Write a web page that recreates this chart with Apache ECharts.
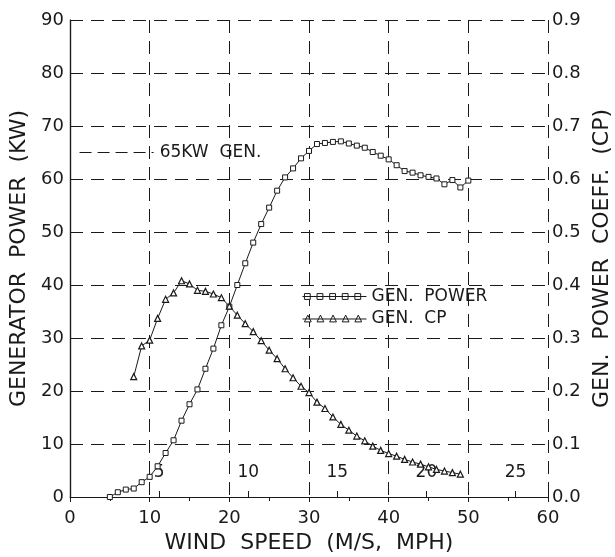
<!DOCTYPE html>
<html>
<head>
<meta charset="utf-8">
<script src="https://cdn.jsdelivr.net/npm/echarts@6/dist/echarts.min.js"></script>
<style>
  html, body { margin: 0; padding: 0; background: #fff; }
  #chart { width: 615px; height: 557px; }
</style>
</head>
<body>
<div id="chart"></div>
<script>
// wind speed in MPH
var powerSpeed = [5, 6, 7, 8, 9, 10, 11, 12, 13, 14, 15, 16, 17, 18, 19, 20, 21, 22, 23, 24, 25, 26, 27,
    28, 29, 30, 31, 32, 33, 34, 35, 36, 37, 38, 39, 40, 41, 42, 43, 44, 45, 46, 47, 48, 49, 50];
var genPower = [0, 0.9, 1.4, 1.6, 2.8, 3.8, 5.8, 8.3, 10.7, 14.4, 17.5, 20.3, 24.2, 28.0, 32.4, 35.9, 40.0, 44.1, 48.0,
    51.5, 54.6, 57.8, 60.3, 62.0, 63.9, 65.3, 66.6, 66.8, 67.0, 67.1, 66.7, 66.3, 65.9, 65.1, 64.4, 63.7,
    62.6, 61.5, 61.2, 60.7, 60.4, 60.1, 59.0, 59.8, 58.4, 59.7];

var cpSpeed = [8, 9, 10, 11, 12, 13, 14, 15, 16, 17, 18, 19, 20, 21, 22, 23, 24, 25, 26, 27, 28, 29,
    30, 31, 32, 33, 34, 35, 36, 37, 38, 39, 40, 41, 42, 43, 44, 45, 46, 47, 48, 49];
var genCp = [0.227, 0.285, 0.296, 0.337, 0.373, 0.385, 0.408, 0.402, 0.390, 0.388, 0.383, 0.376, 0.360,
    0.343, 0.327, 0.312, 0.295, 0.277, 0.261, 0.242, 0.225, 0.209, 0.197, 0.179, 0.167, 0.151, 0.137,
    0.126, 0.115, 0.106, 0.096, 0.088, 0.082, 0.077, 0.071, 0.066, 0.062, 0.057, 0.052, 0.049, 0.046, 0.043];

// 65 kW generator reference line
var refLineX = [1.2, 10.5];
var refLineKw = 65;

var MPH_PER_MS = 2.23694;
var FONT = 'DejaVu Sans';
var INK = '#1a1a1a';

function pairs(xs, ys) {
    return xs.map(function (x, i) { return [x, ys[i]]; });
}

// legend icons: a line with five hollow markers
var sqIcon = 'path://M0 5H66';
var triIcon = 'path://M0 5H66';
for (var k = 0; k < 5; k++) {
    var x0 = 2 + k * 13;
    sqIcon += 'M' + x0 + ' 2h6v6h-' + 6 + 'Z';
    triIcon += 'M' + x0 + ' 8L' + (x0 + 3.5) + ' 1L' + (x0 + 7) + ' 8Z';
}

var dash = [13, 8];

var myChart = echarts.init(document.getElementById('chart'));
var option = {
    backgroundColor: '#fff',
    animation: false,
    textStyle: { fontFamily: FONT, color: INK },
    grid: { left: 70, right: 67, top: 20, bottom: 60, outerBoundsMode: 'none', containLabel: false },
    legend: {
        orient: 'vertical',
        left: 297,
        top: 283,
        itemWidth: 64,
        itemHeight: 8,
        itemGap: 5,
        textStyle: { fontFamily: FONT, fontSize: 17, color: INK },
        itemStyle: { color: '#fff', borderColor: INK, borderWidth: 1 },
        data: [
            { name: 'GEN.  POWER', icon: sqIcon },
            { name: 'GEN.  CP', icon: triIcon }
        ]
    },
    xAxis: [
        {
            type: 'value',
            min: 0, max: 60, interval: 10,
            name: 'WIND  SPEED  (M/S,  MPH)',
            nameLocation: 'middle',
            nameGap: 34,
            nameTextStyle: { fontFamily: FONT, fontSize: 22, color: INK },
            axisLine: { lineStyle: { color: INK, width: 1.2 } },
            axisTick: { length: 5, lineStyle: { color: INK } },
            minorTick: { show: true, splitNumber: 2, length: 4, lineStyle: { color: INK } },
            axisLabel: { fontFamily: FONT, fontSize: 18, color: INK, margin: 12 },
            splitLine: { show: true, lineStyle: { color: INK, type: dash, width: 1 } }
        },
        {
            // metres per second, same line, labels inside the plot
            type: 'value',
            position: 'bottom',
            min: 0, max: 60 / MPH_PER_MS, interval: 5,
            axisLine: { show: false },
            axisTick: { inside: true, length: 6, lineStyle: { color: INK } },
            axisLabel: {
                inside: true, margin: 16, fontFamily: FONT, fontSize: 17, color: INK,
                formatter: function (v) { return (v > 0 && v % 5 === 0) ? String(v) : ''; }
            },
            splitLine: { show: false }
        }
    ],
    yAxis: [
        {
            type: 'value',
            min: 0, max: 90, interval: 10,
            name: 'GENERATOR  POWER  (KW)',
            nameLocation: 'middle',
            nameGap: 39,
            nameTextStyle: { fontFamily: FONT, fontSize: 22, color: INK },
            axisLine: { show: true, lineStyle: { color: INK, width: 1.2 } },
            axisTick: { show: false },
            axisLabel: { fontFamily: FONT, fontSize: 18, color: INK, margin: 6 },
            splitLine: { show: true, lineStyle: { color: INK, type: dash, width: 1 } }
        },
        {
            type: 'value',
            position: 'right',
            min: 0, max: 0.9, interval: 0.1,
            name: 'GEN.  POWER  COEFF.  (CP)',
            nameLocation: 'middle',
            nameGap: 42,
            nameRotate: 90,
            nameTextStyle: { fontFamily: FONT, fontSize: 22, color: INK },
            axisLine: { show: true, lineStyle: { color: INK, width: 1.2 } },
            axisTick: { show: true, length: 4, lineStyle: { color: INK } },
            axisLabel: {
                fontFamily: FONT, fontSize: 18, color: INK, margin: 4,
                formatter: function (v) { return v.toFixed(1); }
            },
            splitLine: { show: false }
        }
    ],
    series: [
        {
            name: 'GEN.  POWER',
            type: 'line',
            xAxisIndex: 0,
            yAxisIndex: 0,
            data: pairs(powerSpeed, genPower),
            symbol: 'rect',
            symbolSize: 5,
            showAllSymbol: true,
            lineStyle: { color: INK, width: 1 },
            itemStyle: { color: '#fff', borderColor: INK, borderWidth: 1 },
            markLine: {
                silent: true,
                symbol: 'none',
                lineStyle: { color: INK, type: [12, 6], width: 1 },
                label: {
                    show: true, position: 'end', distance: 6,
                    fontFamily: FONT, fontSize: 17, color: INK,
                    formatter: '65KW  GEN.'
                },
                data: [[
                    { coord: [refLineX[0], refLineKw] },
                    { coord: [refLineX[1], refLineKw] }
                ]]
            }
        },
        {
            name: 'GEN.  CP',
            type: 'line',
            xAxisIndex: 0,
            yAxisIndex: 1,
            data: pairs(cpSpeed, genCp),
            symbol: 'triangle',
            symbolSize: 6,
            showAllSymbol: true,
            lineStyle: { color: INK, width: 1 },
            itemStyle: { color: '#fff', borderColor: INK, borderWidth: 1.2 }
        }
    ]
};
myChart.setOption(option);

window.addEventListener('resize', function () {
    myChart.resize();
}, false);
</script>
</body>
</html>
